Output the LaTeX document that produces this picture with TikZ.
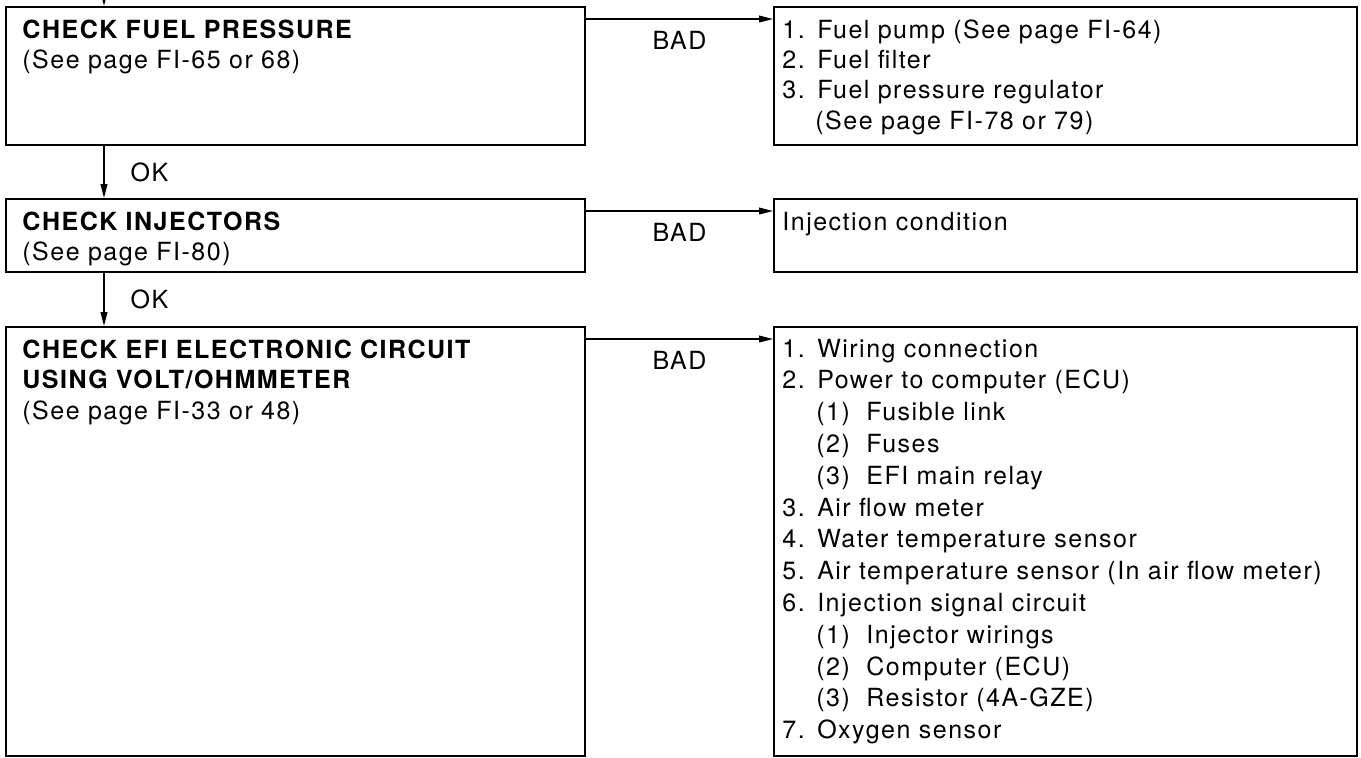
\documentclass[tikz,border=0pt]{standalone}
\usepackage{fontspec}
\setmainfont{TeX Gyre Heros}[LetterSpace=6]
\usepackage{tikz}
\usetikzlibrary{arrows.meta,calc,positioning}

\newcommand{\subln}[2]{\hspace*{17pt}\makebox[25pt][l]{(#1)}#2}

\begin{document}
\begin{tikzpicture}[
    x=1pt,
    y=1pt,
    chkbox/.style={
        draw=black,
        line width=1pt,
        anchor=north west,
        inner sep=0pt
    },
    boxtext/.style={
        anchor=base west,
        inner sep=0pt,
        text width=320pt,
        align=left,
        font=\fontsize{12.5}{15.4}\selectfont
    },
    flowline/.style={
        draw=black,
        line width=0.6pt,
        -{Triangle[length=7pt,width=3.4pt]}
    },
    lbl/.style={
        inner sep=0pt,
        font=\fontsize{12.5}{14}\selectfont
    }
]
\useasboundingbox (0,0) rectangle (680.5,-378.5);

% left column: checks
\node[chkbox, minimum width=289.5pt, minimum height=69pt] (press) at (2.5,-3) {};
\node[chkbox, minimum width=289.5pt, minimum height=36.5pt] (inj) at (2.5,-99) {};
\node[chkbox, minimum width=289.5pt, minimum height=214.5pt] (efi) at (2.5,-163) {};

% right column: causes
\node[chkbox, minimum width=291.5pt, minimum height=69pt] (pressbad) at (386.5,-3) {};
\node[chkbox, minimum width=291.5pt, minimum height=36.5pt] (injbad) at (386.5,-99) {};
\node[chkbox, minimum width=291.5pt, minimum height=214.5pt] (efibad) at (386.5,-163) {};

\node[boxtext] (presstxt) at ($(press.north west)+(8.5,-16)$)
{\textbf{CHECK FUEL PRESSURE}\\(See page FI-65 or 68)};
\node[boxtext] (injtxt) at ($(inj.north west)+(8.5,-16)$)
{\textbf{CHECK INJECTORS}\\(See page FI-80)};
\node[boxtext] (efitxt) at ($(efi.north west)+(8.5,-16)$)
{\textbf{CHECK EFI ELECTRONIC CIRCUIT}\\\textbf{USING VOLT/OHMMETER}\\(See page FI-33 or 48)};

\node[boxtext, font=\fontsize{12.5}{15.2}\selectfont] (pressbadtxt) at ($(pressbad.north west)+(4.5,-16)$)
{1. Fuel pump (See page FI-64)\\
2. Fuel filter\\
3. Fuel pressure regulator\\
\hspace*{16.5pt}(See page FI-78 or 79)};
\node[boxtext] (injbadtxt) at ($(injbad.north west)+(4.5,-16)$)
{Injection condition};
\node[boxtext, font=\fontsize{12.5}{15.9}\selectfont] (efibadtxt) at ($(efibad.north west)+(4.5,-15.5)$)
{1. Wiring connection\\
2. Power to computer (ECU)\\
\subln{1}{Fusible link}\\
\subln{2}{Fuses}\\
\subln{3}{EFI main relay}\\
3. Air flow meter\\
4. Water temperature sensor\\
5. Air temperature sensor (In air flow meter)\\
6. Injection signal circuit\\
\subln{1}{Injector wirings}\\
\subln{2}{Computer (ECU)}\\
\subln{3}{Resistor (4A-GZE)}\\
7. Oxygen sensor};

% connectors
\coordinate (entry) at (52,0);
\draw[flowline] (entry) -- (entry |- press.north);
\draw[flowline] (entry |- press.south) -- (entry |- inj.north)
    node[lbl, midway, right=13pt] (ok1) {OK};
\draw[flowline] (entry |- inj.south) -- (entry |- efi.north)
    node[lbl, midway, right=13pt] (ok2) {OK};

\draw[flowline] ($(press.north east)+(0,-6.5)$) -- ($(pressbad.north west)+(0,-6.5)$)
    node[lbl, midway, below=6pt] (bad1) {BAD};
\draw[flowline] ($(inj.north east)+(0,-6.5)$) -- ($(injbad.north west)+(0,-6.5)$)
    node[lbl, midway, below=6pt] (bad2) {BAD};
\draw[flowline] ($(efi.north east)+(0,-6.5)$) -- ($(efibad.north west)+(0,-6.5)$)
    node[lbl, midway, below=6pt] (bad3) {BAD};

\end{tikzpicture}
\end{document}
